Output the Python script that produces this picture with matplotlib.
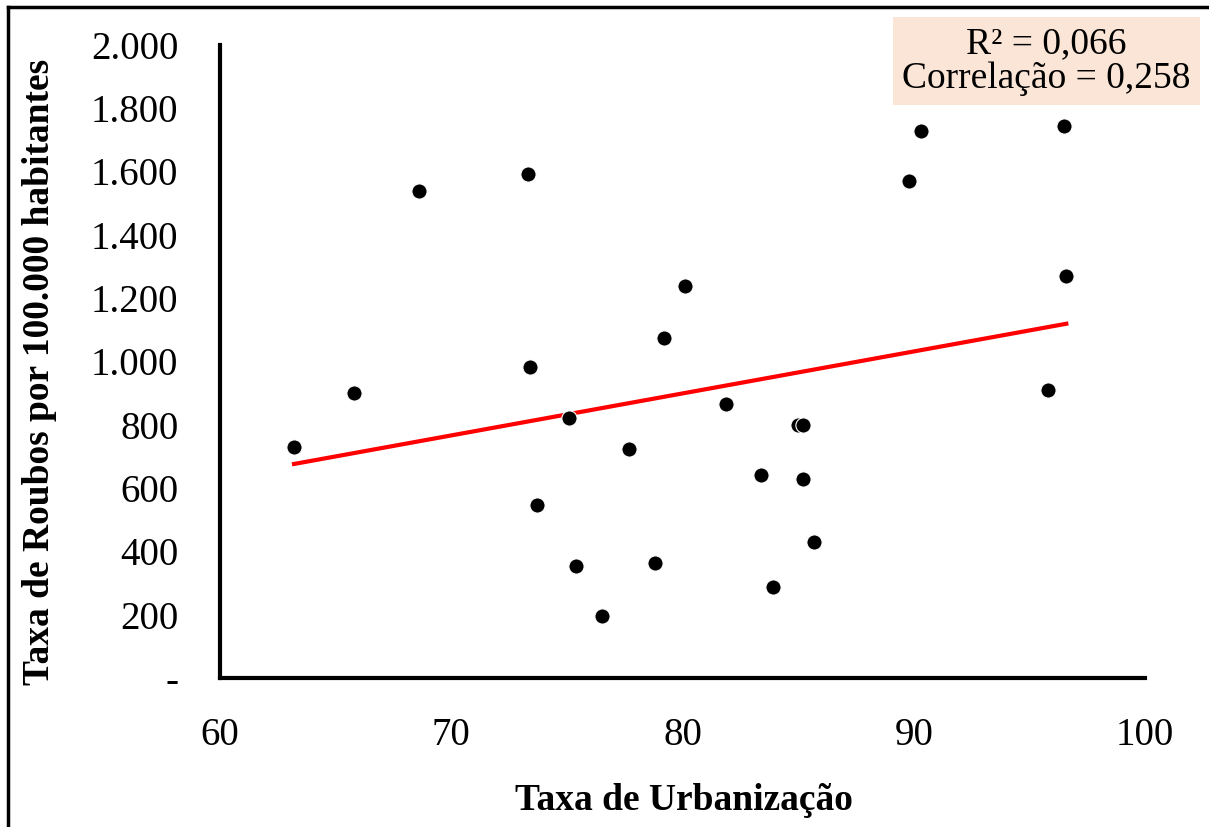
import numpy as np
import matplotlib.pyplot as plt
from matplotlib.lines import Line2D
from matplotlib.ticker import FuncFormatter

plt.rcParams['font.family'] = ['Liberation Serif', 'DejaVu Serif']

# Taxa de urbanização (%) e taxa de roubos por 100.000 habitantes
urbanizacao = [63.2, 65.8, 68.6, 73.3, 73.4, 73.7, 75.1, 75.4, 76.5, 77.7,
               78.8, 79.2, 80.1, 81.9, 83.4, 83.9, 85.0, 85.2, 85.2, 85.7,
               89.8, 90.3, 95.8, 96.5, 96.6]
roubos = [730, 900, 1539, 1592, 983, 547, 821, 354, 196, 723,
          363, 1074, 1239, 866, 641, 288, 800, 800, 629, 430,
          1570, 1728, 910, 1744, 1270]

r2_texto = 'R² = 0,066'
corr_texto = 'Correlação = 0,258'

x = np.array(urbanizacao)
y = np.array(roubos)

fig = plt.figure(figsize=(12.09, 8.27), dpi=100)
ax = fig.add_axes([0.182, 0.180, 0.765, 0.766])

ax.scatter(x, y, s=120, color='black', edgecolors='white', linewidths=0.8, zorder=3)

# reta de tendência linear
coef = np.polyfit(x, y, 1)
xs = np.array([x.min(), x.max()])
ax.plot(xs, np.polyval(coef, xs), color='#FF0000', linewidth=3, zorder=2)

ax.set_xlim(60, 100)
ax.set_ylim(0, 2000)
ax.set_xticks([60, 70, 80, 90, 100])
ax.set_yticks(range(0, 2001, 200))


def fmt_milhar(v, pos):
    if v == 0:
        return '-'
    return f'{int(v):,}'.replace(',', '.')


ax.yaxis.set_major_formatter(FuncFormatter(fmt_milhar))
ax.tick_params(axis='both', length=0, labelsize=28)
ax.tick_params(axis='y', pad=30)
ax.tick_params(axis='x', pad=28)

for s in ['top', 'right']:
    ax.spines[s].set_visible(False)
for s in ['left', 'bottom']:
    ax.spines[s].set_linewidth(3)

ax.set_xlabel('Taxa de Urbanização', fontsize=27, fontweight='bold', va='center')
ax.set_ylabel('Taxa de Roubos por 100.000 habitantes', fontsize=27,
              fontweight='bold', va='center')
ax.xaxis.set_label_coords(0.502, -0.193)
ax.yaxis.set_label_coords(-0.195, 0.483)

# caixa com estatísticas
fig.text(0.8655, 0.926, r2_texto + '\n' + corr_texto, ha='center', va='center',
         fontsize=27, linespacing=1.0,
         bbox=dict(boxstyle='square,pad=0.25', facecolor='#FBE5D6', edgecolor='none'))

# moldura externa
fig.add_artist(Line2D([0.0066, 1.0], [0.9915, 0.9915], color='black', linewidth=2.5,
                      transform=fig.transFigure))
fig.add_artist(Line2D([0.0066, 0.0066], [0.0, 0.9915], color='black', linewidth=2.5,
                      transform=fig.transFigure))

fig.savefig('out.png', dpi=100)
